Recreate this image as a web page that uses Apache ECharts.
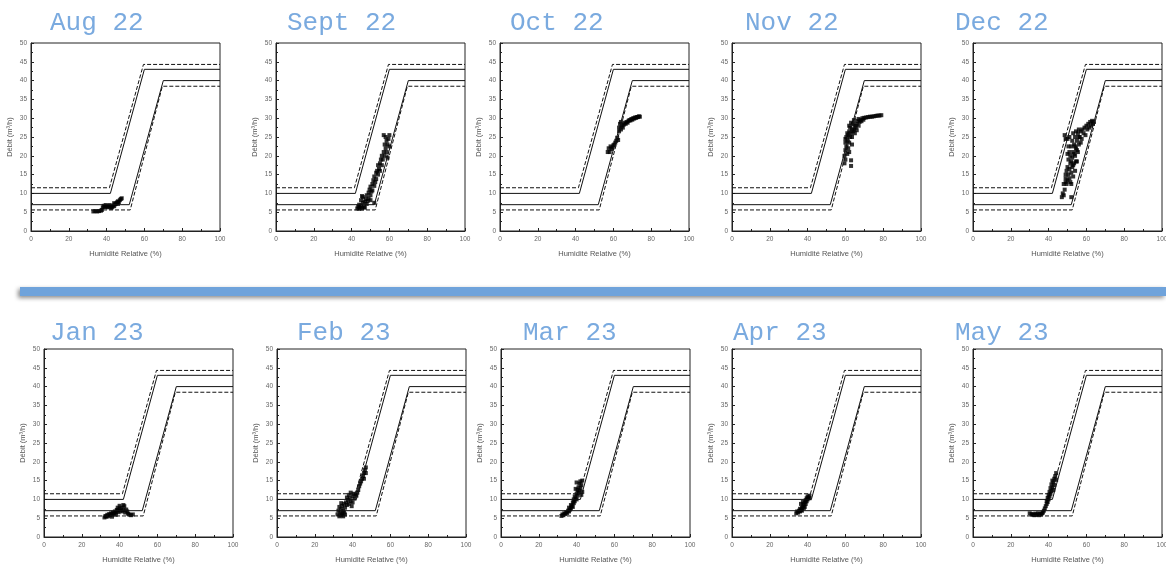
<!DOCTYPE html>
<html>
<head>
<meta charset="utf-8">
<script src="https://cdn.jsdelivr.net/npm/echarts@6/dist/echarts.min.js"></script>
<style>
  html, body { margin: 0; padding: 0; background: #fff; }
  #chart { width: 1166px; height: 564px; }
</style>
</head>
<body>
<div id="chart"></div>
<script>
// titres des mois
const months = ['Aug 22', 'Sept 22', 'Oct 22', 'Nov 22', 'Dec 22',
                'Jan 23', 'Feb 23', 'Mar 23', 'Apr 23', 'May 23']

// limites (identiques sur chaque graphe)
const upperSolid = [[0, 10], [42, 10], [60, 43], [100, 43]]
const upperDashed = [[0, 11.5], [41.5, 11.5], [59.5, 44.3], [100, 44.3]]
const lowerSolid = [[0, 7], [52, 7], [70, 40], [100, 40]]
const lowerDashed = [[0, 5.6], [52.5, 5.6], [69.5, 38.5], [100, 38.5]]

const xTicks = [0, 20, 40, 60, 80, 100]
const yTicks = [0, 5, 10, 15, 20, 25, 30, 35, 40, 45, 50]

// mesures [humidite, debit]
const augPts = [[33,5.2],[34,5.3],[35,5.2],[36,5.3],[37,5.4],[37.5,5.6],[38,6.3],[38.5,6.7],[39,6.4],[39.5,6.9],[40,6.5],[40.5,6.3],[41,6.6],[41.5,6.9],[42,6.4],[42.5,6.1],[43,6.4],[43.5,6.8],[44,6.6],[44.5,7.1],[45,7.3],[45.5,7.6],[46,7.9],[46.5,7.7],[47,8.2],[47.5,8.5],[48,8.7],[44,7.4],[46,7.2]]
const septPts = [[43,6],[43.5,6.5],[44,5.9],[44,7],[44.5,6.2],[45,6.8],[45,8.2],[45.5,6],[45.5,9.3],[46,7.5],[46,9],[46.5,6.4],[47,7.8],[47,6.2],[47.5,8.5],[48,7.2],[48,9.5],[48.5,8],[49,10.2],[49,8.6],[49.5,11],[50,9.5],[50,11.8],[50,8.2],[50.5,10.5],[51,12.5],[51,10.8],[51.5,13.5],[52,12],[52,14.5],[52,7.5],[52.5,13],[53,15.5],[53,13.8],[53.5,16],[54,15],[54,17.5],[54.5,16.5],[55,18],[55,16],[55.5,19],[56,17.5],[56,20],[56.5,19],[57,21],[57,25.5],[57.5,20],[57.5,23],[58,22],[58,25],[58.5,21],[58.5,24],[59,23],[59,19.5],[59.5,24.5],[60,22.5],[60,25.5]]
const octPts = [[57,21],[57.5,22],[58,21],[58.5,22.5],[59,21.8],[59.5,22.2],[60,22.8],[60.5,23],[61,23.5],[61.5,24],[62,24.8],[62.5,24.2],[63,26.5],[63,27.5],[63.5,28.5],[64,27],[64,29],[64.5,28],[65,27.5],[65.5,28.3],[66,28.8],[66.5,28.5],[67,29],[67.5,28.8],[68,29.3],[68.5,29.5],[69,29.4],[69.5,29.8],[70,29.6],[70.5,30],[71,29.9],[71.5,30.2],[72,30.1],[72.5,30.3],[73,30.3],[73.5,30.5],[74,30.4]]
const novPts = [[59.5,18],[59.5,20],[60,19],[60,21.5],[60,23.5],[60,24.5],[60.5,22.5],[60.5,25],[61,20.5],[61,24],[61,26],[61.5,22],[61.5,25.5],[62,23.5],[62,26.5],[62,28],[62,21],[62.5,25],[62.5,27.5],[63,17.3],[63,18.8],[63,26],[63,28.8],[63.5,27],[63.5,25],[63.5,23],[64,26.5],[64,28.5],[64.5,27],[64.5,29.5],[65,26],[65,28],[65.5,27.5],[66,28.5],[66,26.8],[66.5,29.3],[67,28],[67,29.8],[67.5,29],[68,29.5],[68.5,29.2],[69,30],[69.5,29.6],[70,30.1],[71,30.2],[72,30.3],[73,30.4],[74,30.4],[75,30.5],[76,30.6],[77,30.7],[78,30.7],[79,30.8]]
const decPts = [[47,9],[47.5,10],[48,9.5],[48,12.5],[48.5,11],[48.5,25.5],[49,13],[49,15],[49,14],[49,24.5],[49.5,16],[49.5,12.5],[50,13.5],[50,17],[50,24.5],[50,20.5],[50.5,15],[50.5,19],[50.5,22.5],[51,14],[51,16.5],[51,21],[51,25],[51.5,18],[51.5,20],[51.5,13],[52,12.5],[52,15.5],[52,22.5],[52,9],[52,18.5],[52.5,17],[52.5,19.5],[52.5,24],[53,14.5],[53,21],[53,26],[53,17.5],[53.5,18],[53.5,23],[53.5,20.5],[54,16],[54,20],[54,25],[54,22.5],[54.5,22],[54.5,26.5],[54.5,18.5],[55,18.5],[55,24],[55,21.5],[55.5,21],[55.5,26],[56,23],[56,27],[56,25],[56.5,25],[57,26.5],[57,23.5],[57.5,24.5],[58,27],[58.5,26],[59,27.5],[59.5,25.5],[60,28],[60.5,27],[61,28.5],[61.5,27.5],[62,29],[62.5,28],[63,29.3],[63.5,28.5],[64,29]]
const janPts = [[32,5.2],[32.5,5.6],[33,5.4],[33.5,5.9],[34,5.5],[34.5,6.1],[35,5.8],[35.5,6.3],[36,6],[36,5.4],[36.5,6.5],[37,6.2],[37.5,6.8],[38,6.5],[38,5.9],[38.5,7.2],[39,7],[39,7.8],[39.5,6.6],[40,7.4],[40,8.3],[40.5,7],[41,7.8],[41.5,6.8],[42,8.5],[42,7.2],[42.5,8.2],[43,6.5],[43.5,7.3],[44,6.8],[44.5,6.2],[45,6],[46,5.8],[47,6]]
const febPts = [[32,6],[32.5,7],[33,5.5],[33,8],[33.5,6.5],[34,5.8],[34,7.5],[34,9],[34.5,6.2],[34.5,8.3],[35,5.5],[35,7],[35.5,6.5],[35.5,8.8],[36,6],[36,7.8],[36.5,9.2],[37,8.5],[37,10.5],[37.5,9.8],[38,8.8],[38,11.2],[38.5,10.3],[39,9.5],[39,11.8],[39.5,8.2],[40,10.8],[40,9.2],[40.5,11.5],[41,10.2],[41.5,11.3],[42,11],[42.5,11.8],[43,12.5],[43.5,13.5],[44,14.2],[44.5,14.8],[45,15.5],[45.5,16.2],[46,17],[46,15.5],[46.5,17.8],[47,18.5],[47,17]]
const marPts = [[32,5.6],[32.5,6],[33,5.8],[33.5,6.3],[34,6.1],[34.5,6.6],[35,6.4],[35.5,7],[36,6.8],[36,7.8],[36.5,7.3],[37,7.6],[37,8.5],[37.5,8.2],[38,8],[38,9.2],[38.5,9],[38.5,10],[39,9.5],[39,10.8],[39.5,10.3],[39.5,12.8],[40,10],[40,11.5],[40,14.5],[40.5,11],[40.5,12.5],[41,11.8],[41,13.2],[41.5,12.3],[41.5,14.2],[42,13],[42,14.8],[42.5,11.2],[42.5,13.8],[43,12],[43,15]]
const aprPts = [[34,6.3],[34.5,6.8],[35,6.5],[35.5,7],[36,6.8],[36,7.5],[36.5,7.2],[36.5,8.8],[37,7.8],[37,7],[37.5,8.2],[37.5,9.3],[38,7.6],[38,8.6],[38.5,8],[38.5,9.2],[39,8.8],[39,9.8],[39.5,9.5],[39.5,10.3],[40,10],[40,10.8],[40.5,10.5],[41,10.3],[41,11]]
const mayPts = [[30,6.3],[31,6.1],[31.5,5.9],[32,6],[32.5,5.8],[33,6.2],[33.5,5.9],[34,6],[34.5,6.3],[35,5.8],[35.5,6.1],[36,6],[36.5,6.3],[37,6.5],[37.5,7],[38,7.6],[38.5,8.2],[39,8.8],[39,9.6],[39.5,9.3],[39.5,10.4],[40,10],[40,11.2],[40.5,10.8],[40.5,12],[41,11.5],[41,13],[41.5,12.2],[41.5,14],[42,13.2],[42,15],[42.5,12.5],[42.5,14.5],[43,15.5],[43,13.8],[43.5,16.2],[44,15.2],[44,17]]

const allPts = [augPts, septPts, octPts, novPts, decPts, janPts, febPts, marPts, aprPts, mayPts]

// position des graphes (px)
const gridLeft = [31, 276, 500, 732, 973, 44, 277, 501, 732, 973]
const titleLeft = [45, 282, 505, 740, 950, 45, 292, 518, 728, 950]

let grids = [], xAxes = [], yAxes = [], titles = [], series = []

months.forEach((m, i) => {
	const row = i < 5 ? 0 : 1
	grids.push({
		left: gridLeft[i],
		top: row === 0 ? 43 : 349,
		width: 189,
		height: 188,
		outerBoundsMode: 'none',
		containLabel: false,
		show: true,
		borderColor: '#222',
		borderWidth: 1,
		backgroundColor: '#fff'
	})
	titles.push({
		text: m,
		left: titleLeft[i],
		top: row === 0 ? 5 : 315,
		textStyle: {
			fontFamily: 'Liberation Mono',
			fontWeight: 'normal',
			fontSize: 26,
			color: '#7aaadf'
		}
	})
	xAxes.push({
		gridIndex: i,
		type: 'value',
		min: 0,
		max: 100,
		interval: 20,
		name: 'Humidité Relative (%)',
		nameLocation: 'middle',
		nameGap: 19,
		nameTextStyle: { fontSize: 7.5, color: '#555', fontFamily: 'Liberation Sans' },
		axisLine: { lineStyle: { color: '#222', width: 1 } },
		axisTick: { inside: true, length: 3, lineStyle: { color: '#222' } },
		minorTick: { show: true, splitNumber: 2, length: 2, lineStyle: { color: '#222' } },
		splitLine: { show: false },
		axisLabel: { fontSize: 6.5, color: '#666', margin: 5,
			formatter: v => xTicks.includes(v) ? String(v) : '' }
	})
	yAxes.push({
		gridIndex: i,
		type: 'value',
		min: 0,
		max: 50,
		interval: 5,
		name: 'Débit (m³/h)',
		nameLocation: 'middle',
		nameGap: 17,
		nameRotate: 90,
		nameTextStyle: { fontSize: 7.5, color: '#555', fontFamily: 'Liberation Sans' },
		axisLine: { lineStyle: { color: '#222', width: 1 } },
		axisTick: { inside: true, length: 3, lineStyle: { color: '#222' } },
		minorTick: { show: true, splitNumber: 2, length: 2, lineStyle: { color: '#222' } },
		splitLine: { show: false },
		axisLabel: { fontSize: 6.5, color: '#666', margin: 4,
			formatter: v => yTicks.includes(v) ? String(v) : '' }
	})

	const lines = [
		[upperSolid, 'solid'], [upperDashed, [4, 2]],
		[lowerSolid, 'solid'], [lowerDashed, [4, 2]]
	]
	lines.forEach(([d, t]) => {
		series.push({
			type: 'line',
			xAxisIndex: i,
			yAxisIndex: i,
			data: d,
			symbol: 'none',
			silent: true,
			lineStyle: { color: '#111', width: 1, type: t }
		})
	})
	series.push({
		type: 'scatter',
		xAxisIndex: i,
		yAxisIndex: i,
		data: allPts[i],
		symbol: 'rect',
		symbolSize: 4,
		itemStyle: { color: '#000' }
	})
})

const option = {
	animation: false,
	title: titles,
	grid: grids,
	xAxis: xAxes,
	yAxis: yAxes,
	series: series,
	graphic: [{
		type: 'rect',
		shape: { x: 20, y: 287, width: 1146, height: 9 },
		style: {
			fill: '#6fa3db',
			shadowBlur: 4,
			shadowOffsetX: -2,
			shadowOffsetY: 2,
			shadowColor: 'rgba(0,0,0,0.45)'
		}
	}]
}

let chart = echarts.init(document.getElementById('chart'))
chart.setOption(option)
window.onresize = () => {
	chart.resize()
}
</script>
</body>
</html>
